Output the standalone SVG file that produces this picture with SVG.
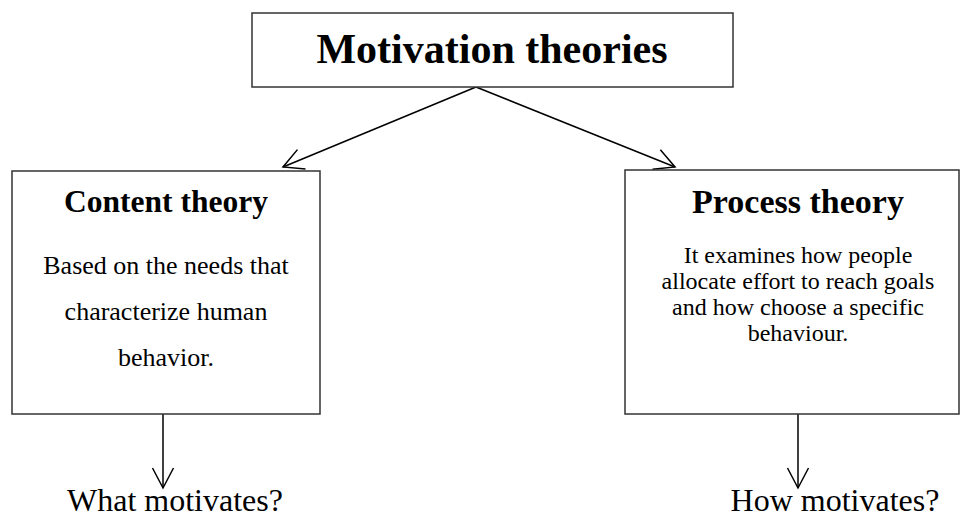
<svg xmlns="http://www.w3.org/2000/svg" width="961" height="518" viewBox="0 0 961 518">
  <style>
    .box { fill: #ffffff; stroke: #333333; stroke-width: 1.5; }
    .link { fill: none; stroke: #000000; stroke-width: 1.5; }
  </style>
  <defs>
    <marker id="open-arrow" markerUnits="userSpaceOnUse" viewBox="-23 -12 25 24" refX="0" refY="0" markerWidth="25" markerHeight="24" orient="auto" overflow="visible">
      <path d="M-20,-10.5 L0,0 L-20,10.5" fill="none" stroke="#000000" stroke-width="1.5"/>
    </marker>
  </defs>
  <rect width="961" height="518" fill="#ffffff"/>

  <g id="connectors">
    <line class="link" x1="476" y1="87" x2="283" y2="167" marker-end="url(#open-arrow)"/>
    <line class="link" x1="476" y1="87" x2="675" y2="167" marker-end="url(#open-arrow)"/>
    <line class="link" x1="163" y1="414" x2="163" y2="488" marker-end="url(#open-arrow)"/>
    <line class="link" x1="798" y1="414" x2="798" y2="488" marker-end="url(#open-arrow)"/>
  </g>

  <g id="motivation-theories">
    <rect class="box" x="252" y="13" width="481" height="74"/>
    <text x="492" y="63" font-size="42" font-family="Liberation Serif" font-weight="bold" text-anchor="middle">Motivation theories</text>
  </g>

  <g id="content-theory">
    <rect class="box" x="12" y="171" width="308" height="243"/>
    <text x="166" y="212" font-size="31.5" font-family="Liberation Serif" font-weight="bold" text-anchor="middle">Content theory</text>
    <text x="166" y="274" font-size="26" font-family="Liberation Serif" text-anchor="middle">Based on the needs that</text>
    <text x="166" y="320" font-size="26" font-family="Liberation Serif" text-anchor="middle">characterize human</text>
    <text x="166" y="366" font-size="26" font-family="Liberation Serif" text-anchor="middle">behavior.</text>
  </g>

  <g id="process-theory">
    <rect class="box" x="625" y="170" width="334" height="244"/>
    <text x="798" y="213" font-size="34" font-family="Liberation Serif" font-weight="bold" text-anchor="middle">Process theory</text>
    <text x="798" y="263" font-size="24" font-family="Liberation Serif" text-anchor="middle">It examines how people</text>
    <text x="798" y="289" font-size="24" font-family="Liberation Serif" text-anchor="middle">allocate effort to reach goals</text>
    <text x="798" y="315" font-size="24" font-family="Liberation Serif" text-anchor="middle">and how choose a specific</text>
    <text x="798" y="341" font-size="24" font-family="Liberation Serif" text-anchor="middle">behaviour.</text>
  </g>

  <g id="what-motivates">
    <text x="175" y="511" font-size="32" font-family="Liberation Serif" text-anchor="middle">What motivates?</text>
  </g>

  <g id="how-motivates">
    <text x="835" y="511" font-size="32" font-family="Liberation Serif" text-anchor="middle">How motivates?</text>
  </g>
</svg>
